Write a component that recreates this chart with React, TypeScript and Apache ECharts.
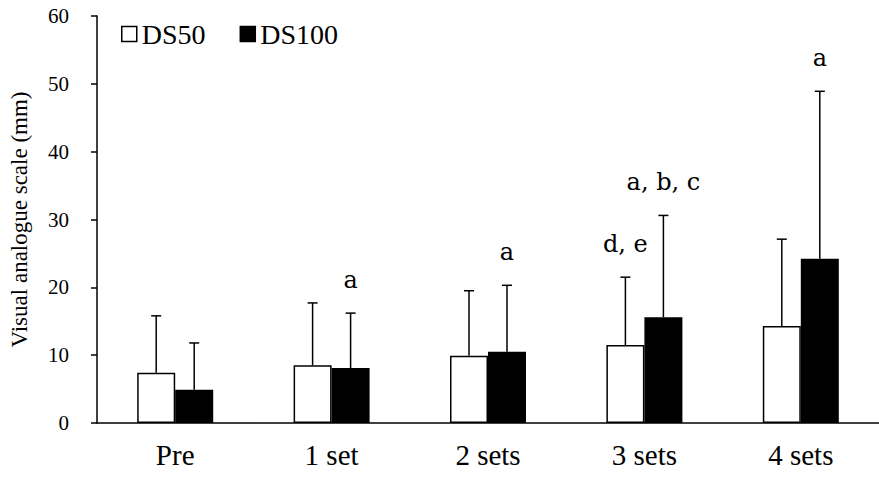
import React, { useEffect, useRef } from "react";
import * as echarts from "echarts";

const categories = ["Pre", "1 set", "2 sets", "3 sets", "4 sets"];
const ds50Values = [7.4, 8.5, 9.9, 11.5, 14.3];
const ds50ErrTop = [15.8, 17.7, 19.5, 21.5, 27.1];
const ds100Values = [4.9, 8.1, 10.5, 15.6, 24.2];
const ds100ErrTop = [11.8, 16.2, 20.3, 30.6, 48.9];
const ds50Notes = ["", "", "", "d, e", ""];
const ds100Notes = ["", "a", "a", "a, b, c", "a"];
const yTicks = [0, 10, 20, 30, 40, 50, 60];

const SERIF = "Liberation Serif";
const NOTE_FONT = "DejaVu Serif";
const BAR_W = 38;

function errSeries(name: string, tops: number[], values: number[], notes: string[], side: number) {
  return {
    type: "custom",
    name: name + "-err",
    silent: true,
    z: 5,
    data: tops.map((t, i) => [i, t, values[i]]),
    renderItem: (params: any, api: any) => {
      const idx = api.value(0);
      const top = api.coord([idx, api.value(1)]);
      const base = api.coord([idx, api.value(2)]);
      const x = top[0] + side * (BAR_W / 2);
      const children: any[] = [
        { type: "line", shape: { x1: x, y1: base[1], x2: x, y2: top[1] }, style: { stroke: "#000", lineWidth: 1.5 } },
        { type: "line", shape: { x1: x - 5, y1: top[1], x2: x + 5, y2: top[1] }, style: { stroke: "#000", lineWidth: 1.5 } },
      ];
      const note = notes[idx];
      if (note) {
        children.push({
          type: "text",
          style: {
            x,
            y: top[1] - 33,
            text: note,
            fill: "#000",
            fontFamily: NOTE_FONT,
            fontSize: 24,
            align: "center",
            verticalAlign: "middle",
          },
        });
      }
      return { type: "group", children };
    },
  };
}

export default function App() {
  const ref = useRef<HTMLDivElement>(null);
  useEffect(() => {
    if (!ref.current) return;
    const chart = echarts.init(ref.current, undefined, { renderer: "svg" });
    chart.setOption({
      animation: false,
      backgroundColor: "#fff",
      textStyle: { fontFamily: SERIF },
      legend: {
        left: 116,
        top: 15,
        itemWidth: 15,
        itemHeight: 15,
        itemGap: 34,
        icon: "rect",
        textStyle: { fontFamily: SERIF, fontSize: 28, color: "#000" },
        data: [
          { name: "DS50", itemStyle: { color: "#fff", borderColor: "#000", borderWidth: 1.5 } },
          { name: "DS100", itemStyle: { color: "#000", borderColor: "#000", borderWidth: 1.5 } },
        ],
      },
      grid: { left: 94, right: -8.5, top: 16, bottom: 55, containLabel: false },
      xAxis: {
        type: "category",
        data: categories,
        axisLine: { lineStyle: { color: "#000", width: 1.5 } },
        axisTick: { show: false },
        axisLabel: { color: "#000", fontFamily: SERIF, fontSize: 29, margin: 17 },
      },
      yAxis: {
        type: "value",
        min: yTicks[0],
        max: yTicks[yTicks.length - 1],
        interval: 10,
        name: "Visual analogue scale (mm)",
        nameLocation: "middle",
        nameGap: 66,
        nameTextStyle: { color: "#000", fontFamily: SERIF, fontSize: 23 },
        axisLine: { show: true, lineStyle: { color: "#000", width: 1.5 } },
        axisTick: { show: true, length: 6, lineStyle: { color: "#000", width: 1.5 } },
        splitLine: { show: false },
        axisLabel: { color: "#000", fontFamily: SERIF, fontSize: 21, margin: 28 },
      },
      series: [
        {
          name: "DS50",
          type: "bar",
          data: ds50Values,
          barWidth: BAR_W,
          barGap: "0%",
          itemStyle: { color: "#fff", borderColor: "#000", borderWidth: 1.5 },
        },
        {
          name: "DS100",
          type: "bar",
          data: ds100Values,
          barWidth: BAR_W,
          barGap: "0%",
          itemStyle: { color: "#000", borderColor: "#000", borderWidth: 1.5 },
        },
        errSeries("DS50", ds50ErrTop, ds50Values, ds50Notes, -1),
        errSeries("DS100", ds100ErrTop, ds100Values, ds100Notes, 1),
      ],
    });
    return () => chart.dispose();
  }, []);
  return <div ref={ref} style={{ position: "fixed", left: 0, top: 0, width: 879, height: 478 }} />;
}
